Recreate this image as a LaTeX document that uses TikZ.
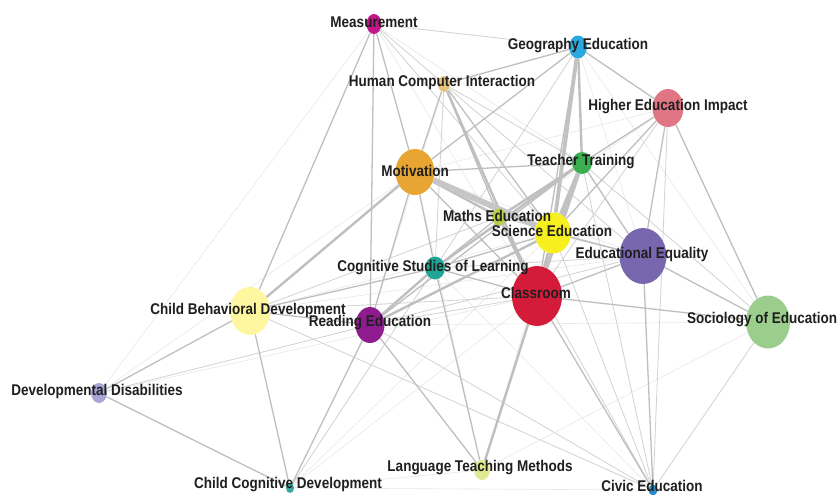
\documentclass[tikz,border=0pt]{standalone}
\usepackage{fontspec}
\setmainfont{Liberation Sans}
\usetikzlibrary{shapes.geometric}
\pgfdeclarelayer{bg}\pgfdeclarelayer{fg}
\pgfsetlayers{bg,main,fg}
\definecolor{cM}{HTML}{C4168A}
\definecolor{cG}{HTML}{2BA8E0}
\definecolor{cH}{HTML}{E8C27A}
\definecolor{cHE}{HTML}{E07583}
\definecolor{cMo}{HTML}{E8A531}
\definecolor{cT}{HTML}{3BAF4F}
\definecolor{cMa}{HTML}{B7CF45}
\definecolor{cS}{HTML}{F7F01E}
\definecolor{cE}{HTML}{7867AE}
\definecolor{cC}{HTML}{22A596}
\definecolor{cCl}{HTML}{D41B3A}
\definecolor{cB}{HTML}{FFF7A0}
\definecolor{cR}{HTML}{8E1C8E}
\definecolor{cSo}{HTML}{9BCD8C}
\definecolor{cD}{HTML}{A8A4D6}
\definecolor{cL}{HTML}{E0EA92}
\definecolor{cCC}{HTML}{3AA8A0}
\definecolor{cCi}{HTML}{2A8AC8}
\newcommand{\stl}[1]{\scalebox{1}[1.15]{#1}}
\tikzset{
 nd/.style={ellipse, inner sep=0pt, draw=none},
 lbl/.style={font=\fontsize{13.5}{14}\selectfont\bfseries, text=black!88, inner sep=0pt},
 e0/.style={draw=gray!18, line width=0.6pt},
 e1/.style={draw=gray!35, line width=0.8pt},
 e2/.style={draw=gray!50, line width=1.3pt},
 e3/.style={draw=gray!50, line width=2.4pt},
 e4/.style={draw=gray!48, line width=3.8pt},
 e5/.style={draw=gray!45, line width=6pt},
}
\begin{document}
\begin{tikzpicture}[x=1pt,y=-1pt]
\useasboundingbox (0,0) rectangle (838,495);
% nodes
\node[nd, fill=cM,  minimum width=15pt, minimum height=20pt] (M)  at (374,24) {};
\node[nd, fill=cG,  minimum width=18pt, minimum height=23pt] (G)  at (578,47) {};
\node[nd, fill=cH,  minimum width=12pt, minimum height=16pt] (H)  at (444,84) {};
\node[nd, fill=cHE, minimum width=31pt, minimum height=38pt] (HE) at (668,108) {};
\node[nd, fill=cMo, minimum width=39pt, minimum height=46pt] (Mo) at (415,172) {};
\node[nd, fill=cT,  minimum width=20pt, minimum height=22pt] (T)  at (582,163) {};
\node[nd, fill=cMa, minimum width=14pt, minimum height=17pt] (Ma) at (499,217) {};
\node[nd, fill=cS,  minimum width=36pt, minimum height=41pt] (S)  at (553,233) {};
\node[nd, fill=cE,  minimum width=47pt, minimum height=56pt] (E)  at (643,256) {};
\node[nd, fill=cC,  minimum width=20pt, minimum height=23pt] (C)  at (435,268) {};
\node[nd, fill=cCl, minimum width=50pt, minimum height=60pt] (Cl) at (537,296) {};
\node[nd, fill=cB,  minimum width=40pt, minimum height=48pt] (B)  at (250,311) {};
\node[nd, fill=cR,  minimum width=29pt, minimum height=36pt] (R)  at (370,325) {};
\node[nd, fill=cSo, minimum width=44pt, minimum height=53pt] (So) at (768,322) {};
\node[nd, fill=cD,  minimum width=16pt, minimum height=20pt] (D)  at (99,393) {};
\node[nd, fill=cL,  minimum width=16pt, minimum height=20pt] (L)  at (482,470) {};
\node[nd, fill=cCC, minimum width=8pt,  minimum height=10pt] (CC) at (290,488) {};
\node[nd, fill=cCi, minimum width=9pt,  minimum height=11pt] (Ci) at (653,490) {};
% edges
\begin{pgfonlayer}{bg}
\fill[white] (0,0) rectangle (838,495);
\foreach \a/\b in {M/D, D/Cl, B/S, R/So, Mo/E, G/So, Mo/L, HE/Mo, HE/C, HE/Ma, L/So, CC/Ci, CC/L, L/S, M/T, M/Cl, D/Mo, C/Ci, CC/Cl, CC/S, H/R, G/E, B/E}
  \draw[e0] (\a) -- (\b);
\foreach \a/\b in {D/R, B/Ci, R/E, Ma/E, H/E, H/T, H/C, Ci/S, Ci/T, Ci/Ma, HE/Ci, G/C, CC/C, M/G, M/H, M/S, R/Ci, B/Cl, HE/Cl, So/Ci, C/E, R/Cl, T/So, B/Ma}
  \draw[e1] (\a) -- (\b);
\foreach \a/\b in {M/Mo, M/B, M/R, H/Mo, H/S, H/Ma, G/Mo, G/H, G/HE, G/Cl, HE/E, HE/T, HE/S, HE/So, E/So, Cl/So, Cl/E, S/E, T/E, C/Cl, C/S, R/T, B/R, B/D, B/CC, D/CC, R/CC, R/L, C/L, Cl/Ci, E/Ci, Mo/C, Mo/R, Mo/T, Mo/Cl, C/Ma, B/C}
  \draw[e2] (\a) -- (\b);
\foreach \a/\b in {Mo/Ma, G/T, H/Cl, C/R, Mo/B, Ma/Cl, T/C, S/Cl, Cl/L, T/Ma, R/S}
  \draw[e3] (\a) -- (\b);
\foreach \a/\b in {T/S, T/Cl, G/S}
  \draw[e4] (\a) -- (\b);
\draw[e5] (Mo) -- (S);
\end{pgfonlayer}
% labels
\begin{pgfonlayer}{fg}
\node[lbl] at (374,22)  {\stl{Measurement}};
\node[lbl] at (578,46)  {\stl{Geography Education}};
\node[lbl] at (442,82)  {\stl{Human Computer Interaction}};
\node[lbl] at (668,107) {\stl{Higher Education Impact}};
\node[lbl] at (415,171) {\stl{Motivation}};
\node[lbl] at (581,162) {\stl{Teacher Training}};
\node[lbl] at (497,216) {\stl{Maths Education}};
\node[lbl] at (552,231) {\stl{Science Education}};
\node[lbl] at (642,254) {\stl{Educational Equality}};
\node[lbl] at (433,268) {\stl{Cognitive Studies of Learning}};
\node[lbl] at (536,293) {\stl{Classroom}};
\node[lbl] at (248,310) {\stl{Child Behavioral Development}};
\node[lbl] at (370,323) {\stl{Reading Education}};
\node[lbl] at (762,320) {\stl{Sociology of Education}};
\node[lbl] at (97,391)  {\stl{Developmental Disabilities}};
\node[lbl] at (480,468) {\stl{Language Teaching Methods}};
\node[lbl] at (288,485) {\stl{Child Cognitive Development}};
\node[lbl] at (652,486) {\stl{Civic Education}};
\end{pgfonlayer}
\end{tikzpicture}
\end{document}
